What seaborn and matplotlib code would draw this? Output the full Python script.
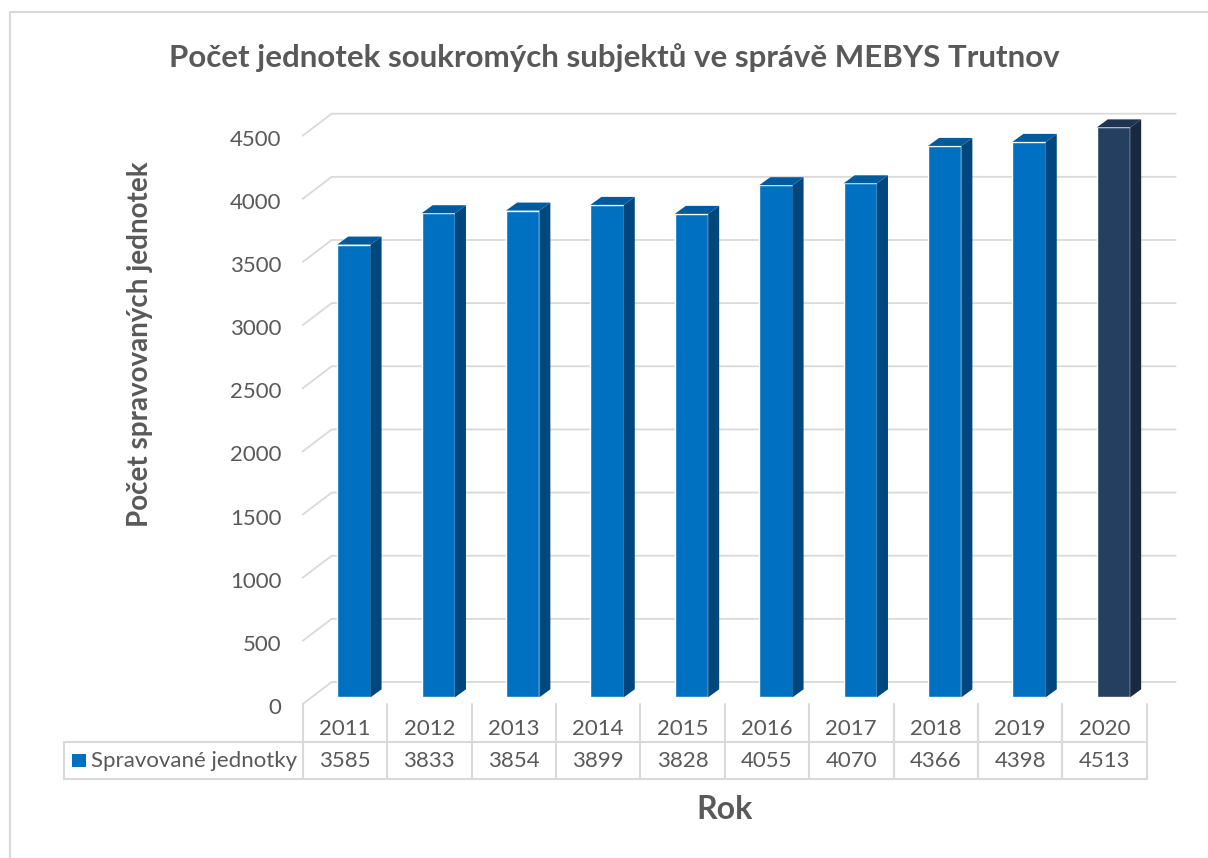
import pandas as pd
import numpy as np
import seaborn as sns
import matplotlib.pyplot as plt
import matplotlib.transforms as mtransforms
from matplotlib.patches import Polygon, Rectangle
from matplotlib.lines import Line2D

years = ["2011", "2012", "2013", "2014", "2015", "2016", "2017", "2018", "2019", "2020"]
units = [3585, 3833, 3854, 3899, 3828, 4055, 4070, 4366, 4398, 4513]
front_colors = ["#0070C0"] * 9 + ["#243F60"]
side_colors = ["#00477D"] * 9 + ["#192A40"]
top_colors = ["#005A9E"] * 9 + ["#1F3352"]
y_ticks = [0, 500, 1000, 1500, 2000, 2500, 3000, 3500, 4000, 4500]

title = "Počet jednotek soukromých subjektů ve správě MEBYS Trutnov"
y_title = "Počet spravovaných jednotek"
x_title = "Rok"
series_name = "Spravované jednotky"

sns.set_theme(style="white")
plt.rcParams['font.family'] = ['Lato', 'DejaVu Sans']
TEXT = "#595959"
GRID = "#D9D9D9"
W, H = 1208, 858
FS = 16

# pseudo 3d offsets in pixels (x right, y up)
FRONT = (-9, -6.7)
BACK = (20, 15.3)
DEPTH = (11, 8)
PIX = mtransforms.IdentityTransform()

fig = plt.figure(figsize=(W / 100, H / 100), dpi=100)
ax = fig.add_axes([311.7 / W, 1 - 697.3 / H, 844 / W, 4700 * 0.12629 / H])
df = pd.DataFrame({"Rok": years, "Pocet": units})
sns.barplot(data=df, x="Rok", y="Pocet", hue="Rok", palette=front_colors,
            saturation=1, width=0.395, legend=False, ax=ax, zorder=2)
ax.set_xlim(-0.5, 9.5)
ax.set_ylim(0, 4700)
ax.set_axis_off()


def disp(x, v, off=(0, 0)):
    px, py = ax.transData.transform((x, v))
    return px + off[0], py + off[1]


def top_px(y):
    return H - y


# back wall gridlines and left diagonal stubs
for v in y_ticks:
    a = disp(-0.5, v, FRONT)
    b = disp(-0.5, v, BACK)
    c = disp(9.5, v, BACK)
    ax.add_line(Line2D([a[0], b[0], c[0]], [a[1], b[1], c[1]], color=GRID,
                       lw=1.3, transform=PIX, clip_on=False, zorder=0.5))
    ax.text(a[0] - 21, a[1] - 10, str(v), transform=PIX, ha="right",
            va="baseline", fontsize=FS, color=TEXT)

# side and top faces of the columns
for p, sc, tc in zip(sorted(ax.patches, key=lambda r: r.get_x()), side_colors, top_colors):
    x0, w, h = p.get_x(), p.get_width(), p.get_height()
    bl, br = disp(x0, 0), disp(x0 + w, 0)
    tl, tr = disp(x0, h), disp(x0 + w, h)
    side = [br, tr, (tr[0] + DEPTH[0], tr[1] + DEPTH[1]), (br[0] + DEPTH[0], br[1] + DEPTH[1])]
    top = [tl, tr, (tr[0] + DEPTH[0], tr[1] + DEPTH[1]), (tl[0] + DEPTH[0], tl[1] + DEPTH[1])]
    ax.add_patch(Polygon(side, closed=True, facecolor=sc, edgecolor="none",
                         transform=PIX, clip_on=False, zorder=2))
    ax.add_patch(Polygon(top, closed=True, facecolor=tc, edgecolor="none",
                         transform=PIX, clip_on=False, zorder=2))

# data table under the chart
row_mid, row_bot = top_px(741.5), top_px(779)
left_x = 64
x_last = disp(9.5, 0, FRONT)
for k in range(len(years) + 1):
    xk, yk = disp(k - 0.5, 0, FRONT)
    ax.add_line(Line2D([xk, xk], [yk, row_bot], color=GRID, lw=1.5,
                       transform=PIX, clip_on=False))
for yy in (row_mid, row_bot):
    ax.add_line(Line2D([left_x, x_last[0]], [yy, yy], color=GRID, lw=1.5,
                       transform=PIX, clip_on=False))
ax.add_line(Line2D([left_x, left_x], [row_mid, row_bot], color=GRID, lw=1.5,
                   transform=PIX, clip_on=False))
for i, (yr, val) in enumerate(zip(years, units)):
    xc = disp(i, 0, FRONT)[0]
    ax.text(xc, top_px(735), yr, transform=PIX, ha="center", va="baseline",
            fontsize=FS, color=TEXT)
    ax.text(xc, top_px(766.7), str(val), transform=PIX, ha="center", va="baseline",
            fontsize=FS, color=TEXT)
ax.add_patch(Rectangle((72, top_px(766.7)), 14, 12.5, facecolor=front_colors[0],
                       edgecolor="none", transform=PIX, clip_on=False))
ax.text(91, top_px(766.7), series_name, transform=PIX, ha="left", va="baseline",
        fontsize=FS, color=TEXT)

# titles
fig.text(614 / W, 1 - 67 / H, title, ha="center", va="baseline",
         fontsize=22.5, fontweight="bold", color=TEXT)
fig.text(140 / W, 1 - 344 / H, y_title, ha="center", va="center", rotation=90,
         fontsize=20, fontweight="bold", color=TEXT)
fig.text(725 / W, 1 - 819 / H, x_title, ha="center", va="baseline",
         fontsize=23, fontweight="bold", color=TEXT)

# chart area border
fig.add_artist(Line2D([10 / W, 1], [1 - 12 / H, 1 - 12 / H], color=GRID, lw=1.5))
fig.add_artist(Line2D([10 / W, 10 / W], [0, 1 - 12 / H], color=GRID, lw=1.5))

fig.savefig("out.png", dpi=100)
